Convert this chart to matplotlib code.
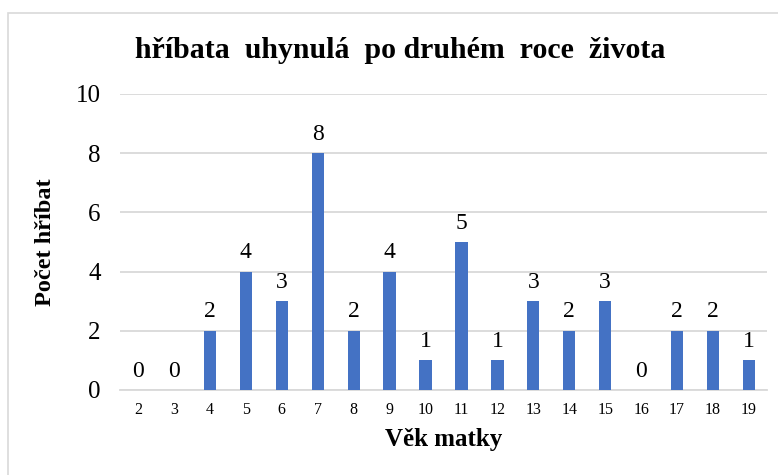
import matplotlib.pyplot as plt
from matplotlib.patches import Rectangle

ages = ["2", "3", "4", "5", "6", "7", "8", "9", "10", "11", "12", "13", "14", "15", "16", "17", "18", "19"]
counts = [0, 0, 2, 4, 3, 8, 2, 4, 1, 5, 1, 3, 2, 3, 0, 2, 2, 1]
yticks = [0, 2, 4, 6, 8, 10]

plt.rcParams['font.family'] = ['Liberation Serif', 'DejaVu Serif']

W, H = 778, 475
fig = plt.figure(figsize=(W / 100, H / 100), dpi=100)
fig.patch.set_facecolor('white')

# outer chart border
fig.add_artist(Rectangle((8 / W, -0.02), 1.2, (H - 13) / H + 0.02, transform=fig.transFigure,
                         fill=False, edgecolor='#D9D9D9', linewidth=1.2))

ax = fig.add_axes([120 / W, (H - 390) / H, (767 - 120) / W, (390 - 94) / H])
x = list(range(len(ages)))
bars = ax.bar(x, counts, width=0.34, color='#4472C4', zorder=3)
ax.set_xlim(-0.5, len(ages) - 0.5)
ax.set_ylim(0, 10)
ax.set_yticks(yticks)
ax.set_yticklabels([str(v) for v in yticks], fontsize=18)
ax.set_xticks(x)
ax.set_xticklabels(ages, fontsize=11.5)
ax.tick_params(axis='both', length=0)
ax.tick_params(axis='y', pad=14)
ax.tick_params(axis='x', pad=9)
ax.grid(axis='y', color='#D9D9D9', linewidth=1.3, zorder=0)
for s in ['top', 'right', 'left']:
    ax.spines[s].set_visible(False)
ax.spines['bottom'].set_color('#D9D9D9')
ax.spines['bottom'].set_linewidth(1.3)

for xi, v in zip(x, counts):
    ax.annotate(str(v), (xi, v), xytext=(0, 6), textcoords='offset points',
                ha='center', va='bottom', fontsize=17)

ax.set_xlabel('Věk matky', fontsize=18, fontweight='bold', labelpad=7)
ax.set_ylabel('Počet hříbat', fontsize=17.5, fontweight='bold', labelpad=14)

fig.text(400 / W, 1 - 50 / H, 'hříbata  uhynulá  po druhém  roce  života', ha='center', va='center',
         fontsize=21.5, fontweight='bold')

fig.savefig('out.png', dpi=100)
